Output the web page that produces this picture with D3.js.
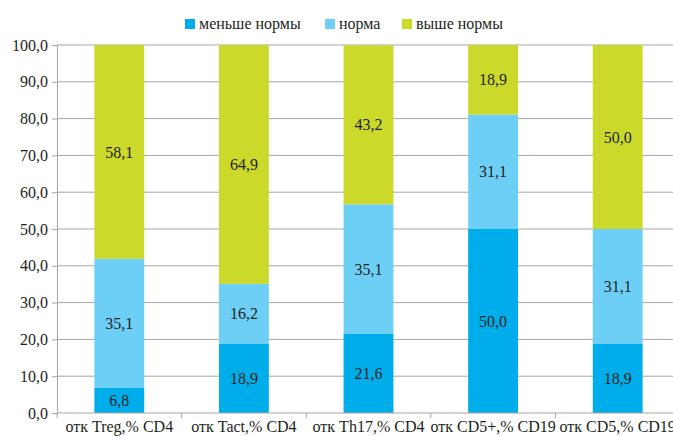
<!DOCTYPE html>
<html>
<head>
<meta charset="utf-8">
<script src="https://cdn.jsdelivr.net/npm/d3@7"></script>
<style>
  html, body { margin: 0; padding: 0; background: #fff; }
  svg { display: block; }
</style>
</head>
<body>
<svg id="chart" width="673" height="436"></svg>
<script>
// Categories and stacked series (percent of patients)
const categories = ["отк Treg,% CD4", "отк Tact,% CD4", "отк Th17,% CD4", "отк CD5+,% CD19", "отк CD5,% CD19"];
const seriesNames = ["меньше нормы", "норма", "выше нормы"];
const below = [6.8, 18.9, 21.6, 50.0, 18.9];
const normal = [35.1, 16.2, 35.1, 31.1, 31.1];
const above = [58.1, 64.9, 43.2, 18.9, 50.0];
const yTicks = [0, 10, 20, 30, 40, 50, 60, 70, 80, 90, 100];
const colors = ["#00adeb", "#6dcff6", "#cbd92b"];

const FONT = "'Liberation Serif', 'Times New Roman', serif";
const FONT_SIZE = "16px";
const TEXT_COLOR = "#231f20";

const svg = d3.select("#chart");
const margin = { left: 57, top: 45, bottom: 413 };
const bandW = 124.6;

const x = d3.scaleBand()
  .domain(categories)
  .range([margin.left, margin.left + bandW * categories.length])
  .paddingInner(0.6).paddingOuter(0.3);

const y = d3.scaleLinear().domain([0, 100]).range([margin.bottom, margin.top]);

const rows = categories.map((c, i) => ({ cat: c, s0: below[i], s1: normal[i], s2: above[i] }));
const stacked = d3.stack().keys(["s0", "s1", "s2"])(rows);
const fmt = v => d3.format(".1f")(v).replace(".", ",");

// gridlines
svg.append("g").selectAll("line").data(yTicks.filter(d => d > 0)).join("line")
  .attr("x1", margin.left).attr("x2", 673)
  .attr("y1", d => y(d)).attr("y2", d => y(d))
  .attr("stroke", "#a6a6a6").attr("stroke-width", 1);

// y axis
const yAxis = d3.axisLeft(y).tickValues(yTicks).tickSize(5).tickPadding(4).tickFormat(fmt);
const gy = svg.append("g").attr("transform", `translate(${margin.left},0)`).call(yAxis);
gy.select(".domain").attr("stroke", "#a6a6a6");
gy.selectAll(".tick line").attr("stroke", "#a6a6a6");
gy.selectAll(".tick text")
  .style("font-family", FONT).style("font-size", FONT_SIZE).attr("fill", TEXT_COLOR);

// bars
const layers = svg.append("g").selectAll("g").data(stacked).join("g")
  .attr("fill", (d, i) => colors[i]);
layers.selectAll("rect").data(d => d).join("rect")
  .attr("x", d => x(d.data.cat))
  .attr("width", x.bandwidth())
  .attr("y", d => y(d[1]))
  .attr("height", d => y(d[0]) - y(d[1]));

// value labels
layers.selectAll("text").data(d => d).join("text")
  .attr("x", d => x(d.data.cat) + x.bandwidth() / 2)
  .attr("y", d => (y(d[0]) + y(d[1])) / 2)
  .attr("dy", "0.35em")
  .attr("text-anchor", "middle")
  .attr("fill", TEXT_COLOR)
  .style("font-family", FONT).style("font-size", FONT_SIZE)
  .text(d => fmt(d[1] - d[0]));

// x axis
const gx = svg.append("g");
gx.append("line")
  .attr("x1", margin.left).attr("x2", 673)
  .attr("y1", y(0)).attr("y2", y(0))
  .attr("stroke", "#a6a6a6");
gx.selectAll("line.tk").data(d3.range(categories.length + 1)).join("line")
  .attr("class", "tk")
  .attr("x1", i => margin.left + i * bandW).attr("x2", i => margin.left + i * bandW)
  .attr("y1", y(0)).attr("y2", y(0) + 5)
  .attr("stroke", "#a6a6a6");
gx.selectAll("text").data(categories).join("text")
  .attr("x", d => x(d) + x.bandwidth() / 2)
  .attr("y", 432)
  .attr("text-anchor", "middle")
  .attr("fill", TEXT_COLOR)
  .style("font-family", FONT).style("font-size", FONT_SIZE)
  .text(d => d);

// legend
const legendX = [185, 325, 402];
const lg = svg.append("g").selectAll("g").data(seriesNames).join("g")
  .attr("transform", (d, i) => `translate(${legendX[i]},19)`);
lg.append("rect").attr("width", 10).attr("height", 10).attr("fill", (d, i) => colors[i]);
lg.append("text").attr("x", 14).attr("y", 10)
  .attr("fill", TEXT_COLOR)
  .style("font-family", FONT).style("font-size", FONT_SIZE)
  .text(d => d);
</script>
</body>
</html>
